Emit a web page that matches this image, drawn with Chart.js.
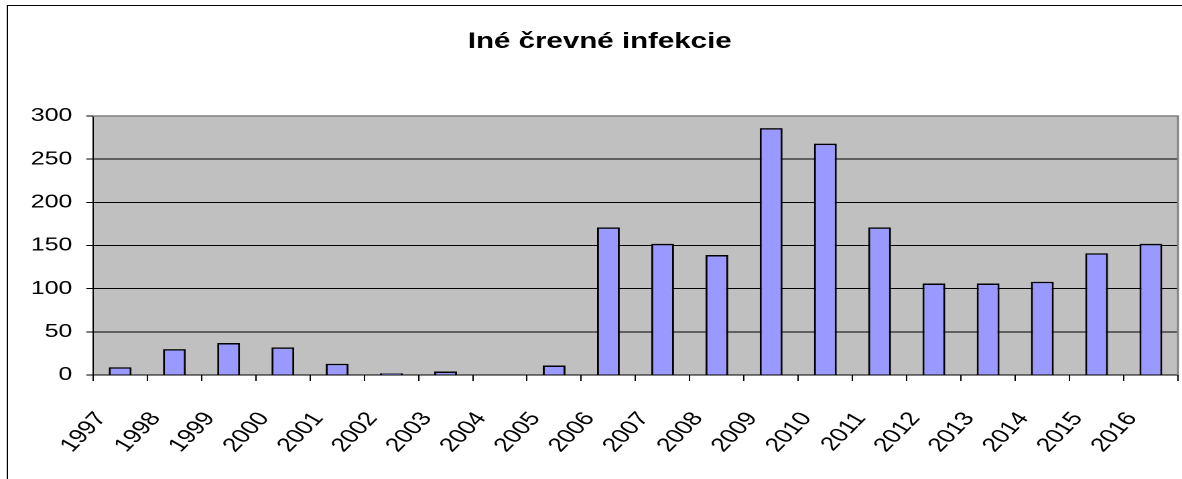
<!DOCTYPE html>
<html>
<head>
<meta charset="utf-8">
<script src="https://cdn.jsdelivr.net/npm/chart.js@4/dist/chart.umd.min.js"></script>
<style>
    html, body { margin: 0; padding: 0; background: #fff; overflow: hidden; }
    /* el original es un grafico de Excel estirado en horizontal */
    #infekcieChart { position: absolute; left: 0; top: 0; width: 1182px !important; height: 479px !important; }
</style>
</head>
<body>
<canvas id="infekcieChart" width="882" height="479"></canvas>
<script>
const years = ['1997', '1998', '1999', '2000', '2001', '2002', '2003', '2004', '2005', '2006',
    '2007', '2008', '2009', '2010', '2011', '2012', '2013', '2014', '2015', '2016'];
const cases = [9, 30, 37, 32, 13, 2, 4, 0, 11, 171, 152, 139, 286, 268, 171, 106, 106, 108, 141, 152];
const yTicks = [0, 50, 100, 150, 200, 250, 300];

// fondo gris del area y marcos
const plotFrame = {
    id: 'plotFrame',
    beforeDraw(chart) {
        const { ctx, chartArea: a } = chart;
        ctx.save();
        ctx.fillStyle = '#fff';
        ctx.fillRect(0, 0, chart.width, chart.height);
        ctx.fillStyle = '#C0C0C0';
        ctx.fillRect(a.left, a.top, a.right - a.left, a.bottom - a.top);
        ctx.restore();
    },
    afterDraw(chart) {
        const { ctx, chartArea: a } = chart;
        ctx.save();
        ctx.strokeStyle = '#808080';
        ctx.lineWidth = 1.5;
        ctx.beginPath();
        ctx.moveTo(a.left, a.top);
        ctx.lineTo(a.right, a.top);
        ctx.lineTo(a.right, a.bottom);
        ctx.stroke();
        ctx.strokeStyle = '#000';
        ctx.lineWidth = 1;
        ctx.strokeRect(5.5, 5.5, chart.width + 20, chart.height + 20);
        ctx.restore();
    }
};

document.addEventListener('DOMContentLoaded', () => {
    const ctx = document.getElementById('infekcieChart');
    new Chart(ctx, {
        type: 'bar',
        data: {
            labels: years,
            datasets: [{
                label: 'Iné črevné infekcie',
                data: cases,
                backgroundColor: '#9999FF',
                borderColor: '#000',
                borderWidth: 1.5,
                barPercentage: 0.42,
                categoryPercentage: 1
            }]
        },
        options: {
            responsive: false,
            animation: false,
            devicePixelRatio: 2,
            layout: { padding: { left: 16, right: 3, top: 0, bottom: 0 } },
            plugins: {
                legend: { display: false },
                tooltip: { enabled: false },
                title: {
                    display: true,
                    text: 'Iné črevné infekcie',
                    color: '#000',
                    font: { family: 'Arial', size: 22, weight: 'bold', lineHeight: 1.2 },
                    padding: { top: 28.5, bottom: 61.1 }
                }
            },
            scales: {
                x: {
                    offset: true,
                    grid: {
                        offset: true,
                        drawOnChartArea: false,
                        drawTicks: true,
                        tickLength: 6,
                        color: '#000'
                    },
                    border: { color: '#000', width: 1 },
                    ticks: {
                        color: '#000',
                        font: { family: 'Arial', size: 19.5 },
                        minRotation: 53,
                        maxRotation: 53,
                        padding: 27,
                        labelOffset: -14,
                        autoSkip: false
                    },
                    afterFit: scale => {
                        scale.height = 104;
                        scale.paddingLeft = 0;
                        scale.paddingRight = 0;
                    }
                },
                y: {
                    min: 0,
                    max: 300,
                    afterBuildTicks: scale => { scale.ticks = yTicks.map(v => ({ value: v })); },
                    grid: {
                        color: '#000',
                        lineWidth: 1,
                        tickLength: 5
                    },
                    border: { color: '#000', width: 1 },
                    ticks: {
                        color: '#000',
                        font: { family: 'Arial', size: 18.5 },
                        padding: 10.5
                    },
                    afterFit: scale => { scale.width = 53.4; }
                }
            }
        },
        plugins: [plotFrame]
    });
});
</script>
</body>
</html>
